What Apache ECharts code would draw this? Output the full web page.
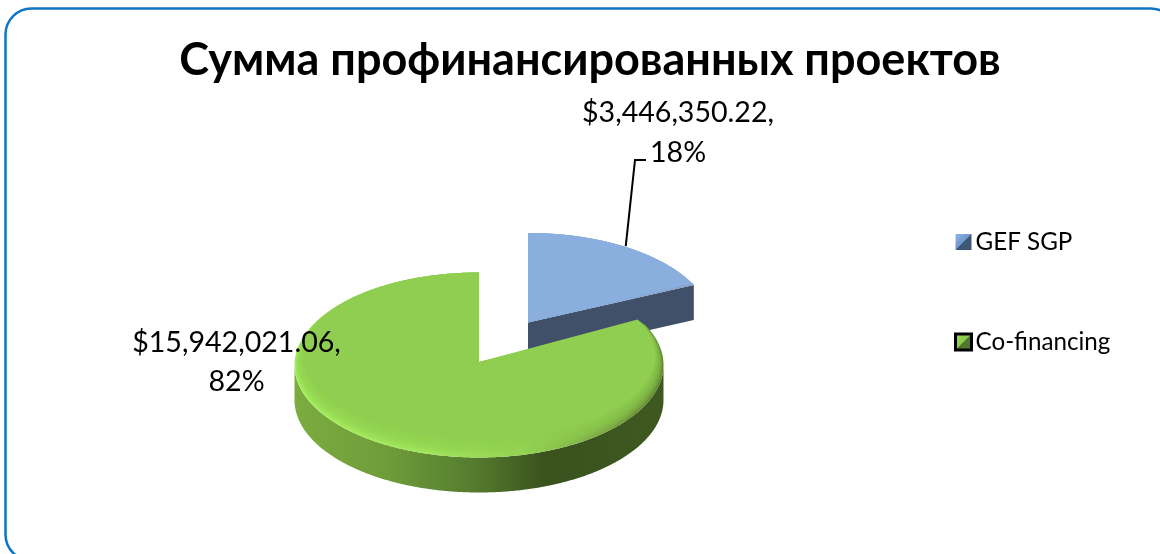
<!DOCTYPE html>
<html>
<head>
<meta charset="utf-8">
<style>html,body{margin:0;padding:0;background:#fff;overflow:hidden}#c{width:1160px;height:554px}</style>
<script src="https://cdn.jsdelivr.net/npm/echarts@6/dist/echarts.min.js"></script>
</head>
<body>
<div id="c"></div>
<script>
const titleText = 'Сумма профинансированных проектов';
const categories = ['GEF SGP', 'Co-financing'];
const amounts = [3446350.22, 15942021.06];
const amountLabels = ['$3,446,350.22,', '$15,942,021.06,'];

const total = amounts.reduce((a, b) => a + b, 0);
const FONT = 'Lato, "Open Sans", "Noto Sans", sans-serif';
const RX = 184.5, RY = 92.5, DEPTH = 35, APEX_LIFT = 3;
const LOOK = [
  { cx: 528, cy: 325.5, top: '#8aaede', bevel: 3, labelX: 678, labelY: 133.5,
    rim: [[0, '#8aaede'], [0.75, '#8aaede'], [1, '#7f95b2']],
    wall: [[0, '#3f5068'], [1, '#3f5068']], face: '#3f5068', leader: true },
  { cx: 479, cy: 365, top: '#8fce50', bevel: 9, labelX: 236.5, labelY: 363,
    rim: [[0, '#a6ee5e'], [0.35, '#a0e65a'], [0.62, '#96d454'], [0.84, '#7ba844'], [1, '#5f8430']],
    wall: [[0, '#7bac3f'], [0.25, '#6f9c3a'], [0.48, '#567d2f'], [0.68, '#3a521e'], [1, '#3e5920']], face: '#3f5068' }
];

function hGrad(x0, x1, stops) {
  return { type: 'linear', global: true, x: x0, y: 0, x2: x1, y2: 0,
    colorStops: stops.map(s => ({ offset: s[0], color: s[1] })) };
}
function arc(cx, cy, rx, ry, a0, a1) {
  const pts = [], n = Math.max(2, Math.ceil(Math.abs(a1 - a0) / 0.01));
  for (let i = 0; i <= n; i++) {
    const a = a0 + (a1 - a0) * i / n;
    pts.push([cx + rx * Math.sin(a), cy - ry * Math.cos(a)]);
  }
  return pts;
}
function wedgeItem(index) {
  return function (params, api) {
    const value = api.value(0);
    let before = 0;
    for (let i = 0; i < index; i++) before += amounts[i];
    const a0 = before / total * 2 * Math.PI;
    const a1 = (before + value) / total * 2 * Math.PI;
    const L = LOOK[index];
    const kids = [];
    const x0 = L.cx - RX, x1 = L.cx + RX;
    const apex = [L.cx, L.cy - APEX_LIFT];

    // outer wall: only the front half of the rim faces the viewer
    const w0 = Math.max(a0, Math.PI / 2), w1 = Math.min(a1, Math.PI * 1.5);
    if (w1 > w0) {
      const upper = arc(L.cx, L.cy, RX, RY, w0, w1);
      const lower = arc(L.cx, L.cy + DEPTH, RX, RY, w1, w0);
      kids.push({ type: 'polygon', shape: { points: upper.concat(lower) },
        style: { fill: hGrad(x0, x1, L.wall) } });
    }
    // cut face, visible when the wedge ends in the back right quarter
    if (a1 < Math.PI / 2) {
      const p = arc(L.cx, L.cy, RX, RY, a1, a1)[0];
      kids.push({ type: 'polygon',
        shape: { points: [apex, p, [p[0], p[1] + DEPTH], [apex[0], apex[1] + DEPTH]] },
        style: { fill: L.face } });
    }
    // top with soft bevel
    kids.push({ type: 'polygon', shape: { points: [apex].concat(arc(L.cx, L.cy, RX, RY, a0, a1)) },
      style: { fill: hGrad(x0, x1, L.rim) } });
    const steps = 8;
    for (let k = 1; k <= steps; k++) {
      const s = L.bevel * k / steps;
      kids.push({ type: 'polygon',
        shape: { points: [apex].concat(arc(L.cx, L.cy - s, RX - s * 0.9, RY - s, a0, a1)) },
        style: { fill: L.top, opacity: k === steps ? 1 : 0.25 } });
    }
    // leader line
    if (L.leader) {
      const mid = (a0 + a1) / 2;
      const p = arc(L.cx, L.cy, RX, RY, mid, mid)[0];
      kids.push({ type: 'polyline',
        shape: { points: [[p[0], p[1] - 1], [L.labelX - 43, L.labelY + 26.5], [L.labelX - 32, L.labelY + 26.5]] },
        style: { fill: 'none', stroke: '#000', lineWidth: 2 } });
    }
    // data label
    const pct = Math.round(value / total * 100) + '%';
    kids.push({ type: 'text',
      style: { x: L.labelX, y: L.labelY - 0.5, text: amountLabels[index] + '\n' + pct,
        font: '28.6px ' + FONT, fill: '#000', align: 'center', verticalAlign: 'middle', lineHeight: 39.5 } });
    return { type: 'group', children: kids };
  };
}

const legendIcon = (light, mid, dark, extra) => Object.assign({
  color: { type: 'linear', x: 0, y: 0, x2: 1, y2: 1, colorStops: [
    { offset: 0, color: light }, { offset: 0.5, color: mid },
    { offset: 0.5, color: dark }, { offset: 1, color: dark } ] }
}, extra);

const chart = echarts.init(document.getElementById('c'), null, { renderer: 'canvas' });
chart.setOption({
  animation: false,
  backgroundColor: '#fff',
  color: ['#8aaede', '#8fce50'],
  title: { text: titleText, left: 590, top: 33, textAlign: 'center',
    textStyle: { fontFamily: FONT, fontSize: 45, fontWeight: 'bold', color: '#000', width: 1000 },
    padding: [5, 10, 5, 0] },
  legend: {
    orient: 'vertical', left: 949, top: 225, itemWidth: 16, itemHeight: 16, itemGap: 76,
    selectedMode: false,
    textStyle: { fontFamily: FONT, fontSize: 24.2, color: '#000', padding: [0, 0, 0, -1] },
    data: [
      { name: categories[0], icon: 'rect', itemStyle: legendIcon('#8fb8ee', '#6f94c4', '#3f5875', { borderWidth: 0 }) },
      { name: categories[1], icon: 'rect', itemStyle: legendIcon('#9ae055', '#8cc84c', '#4f7a2a', { borderColor: '#000', borderWidth: 3 }) }
    ]
  },
  graphic: [{ type: 'rect', silent: true, z: -1,
    shape: { x: 5.5, y: 8.5, width: 1171, height: 552, r: 26 },
    style: { fill: '#fff', stroke: '#0f76c6', lineWidth: 2.5 } }],
  series: categories.map((name, i) => ({
    type: 'custom', name, coordinateSystem: 'none', silent: true, clip: false,
    encode: { value: 0 },
    data: [[amounts[i]]],
    renderItem: wedgeItem(i)
  }))
});
</script>
</body>
</html>
